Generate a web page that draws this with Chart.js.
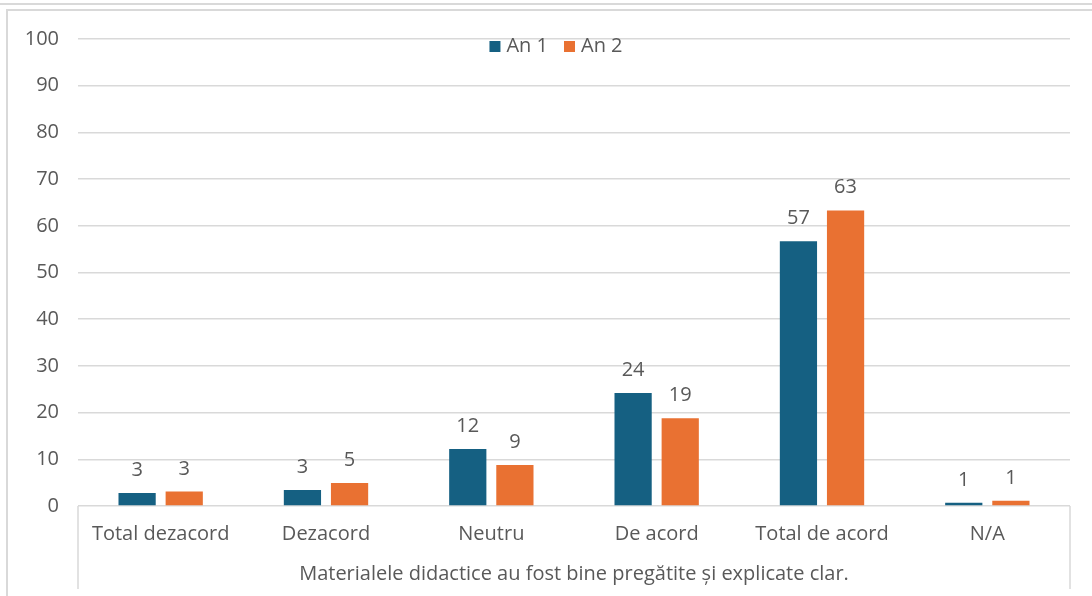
<!DOCTYPE html>
<html>
<head>
<meta charset="utf-8">
<script src="https://cdn.jsdelivr.net/npm/chart.js@4.4.1/dist/chart.umd.min.js"></script>
<style>
  html, body { margin: 0; padding: 0; background: #fff; }
  body { width: 1092px; height: 596px; position: relative; overflow: hidden; }
  #topline { position: absolute; left: 0; top: 3px; width: 1092px; height: 2px; background: #d9d9d9; }
  #frame { position: absolute; left: 6px; top: 9px; width: 1100px; height: 600px;
           border-left: 2px solid #d9d9d9; border-top: 2px solid #d9d9d9; }
  #c { position: absolute; left: 0; top: 0; }
</style>
</head>
<body>
<div id="topline"></div>
<div id="frame"></div>
<canvas id="c" width="1092" height="596"></canvas>
<script>
// categories and values
var categories = ['Total dezacord', 'Dezacord', 'Neutru', 'De acord', 'Total de acord', 'N/A'];
var an1 = [2.8, 3.4, 12.2, 24.2, 56.7, 0.7];
var an2 = [3.1, 4.9, 8.8, 18.8, 63.3, 1.1];
var seriesNames = ['An 1', 'An 2'];
var groupTitle = 'Materialele didactice au fost bine pregătite și explicate clar.';
var yTicks = [0, 10, 20, 30, 40, 50, 60, 70, 80, 90, 100];

var textColor = '#595959';
var gridColor = '#d9d9d9';
var fontFamily = '"Open Sans", sans-serif';
var fontSize = 20;

// value labels above each bar
var barLabels = {
    id: 'barLabels',
    afterDatasetsDraw: function (chart) {
        var ctx = chart.ctx;
        ctx.save();
        ctx.fillStyle = textColor;
        ctx.font = fontSize + 'px ' + fontFamily;
        ctx.textAlign = 'center';
        ctx.textBaseline = 'alphabetic';
        chart.data.datasets.forEach(function (ds, i) {
            chart.getDatasetMeta(i).data.forEach(function (bar, j) {
                ctx.fillText(Math.round(ds.data[j]), bar.x, bar.y - 17);
            });
        });
        ctx.restore();
    }
};

// legend sitting inside the plot, under the 100 line
var insideLegend = {
    id: 'insideLegend',
    afterDraw: function (chart) {
        var ctx = chart.ctx;
        ctx.save();
        ctx.font = fontSize + 'px ' + fontFamily;
        ctx.textBaseline = 'middle';
        var box = 11, gapBox = 6, gapItem = 16;
        var widths = chart.data.datasets.map(function (ds) {
            return box + gapBox + ctx.measureText(ds.label).width;
        });
        var total = widths.reduce(function (a, b) { return a + b; }, 0) + gapItem * (widths.length - 1);
        var x = 556 - total / 2, y = 46.5;
        chart.data.datasets.forEach(function (ds, i) {
            ctx.fillStyle = ds.backgroundColor;
            ctx.fillRect(x, y - box / 2, box, box);
            ctx.fillStyle = textColor;
            ctx.fillText(ds.label, x + box + gapBox, y);
            x += widths[i] + gapItem;
        });
        ctx.restore();
    }
};

// outer lines of the category axis box
var axisBox = {
    id: 'axisBox',
    afterDraw: function (chart) {
        var ctx = chart.ctx, a = chart.chartArea;
        ctx.save();
        ctx.strokeStyle = gridColor;
        ctx.lineWidth = 1.5;
        ctx.beginPath();
        ctx.moveTo(a.left, a.bottom);
        ctx.lineTo(a.left, 589);
        ctx.moveTo(a.right, a.bottom);
        ctx.lineTo(a.right, 589);
        ctx.stroke();
        ctx.restore();
    }
};

var chart = new Chart(document.getElementById('c').getContext('2d'), {
    type: 'bar',
    data: {
        labels: categories,
        datasets: [{
            label: seriesNames[0],
            data: an1,
            backgroundColor: '#156082'
        }, {
            label: seriesNames[1],
            data: an2,
            backgroundColor: '#e97132'
        }]
    },
    options: {
        responsive: false,
        animation: false,
        layout: { padding: { left: 0, right: 22, top: 39, bottom: 0 } },
        datasets: {
            bar: { categoryPercentage: 0.57, barPercentage: 0.79 }
        },
        plugins: {
            legend: { display: false },
            tooltip: { enabled: false }
        },
        scales: {
            x: {
                grid: { display: false, drawTicks: false },
                border: { display: false },
                ticks: {
                    color: textColor,
                    font: { family: fontFamily, size: fontSize },
                    padding: 16,
                    maxRotation: 0
                },
                title: {
                    display: true,
                    text: groupTitle,
                    color: textColor,
                    font: { family: fontFamily, size: fontSize },
                    padding: { top: 0, bottom: 10 }
                },
                afterFit: function (s) { s.height = 90; }
            },
            y: {
                min: 0,
                max: 100,
                afterBuildTicks: function (s) {
                    s.ticks = yTicks.map(function (v) { return { value: v }; });
                },
                grid: { color: gridColor, lineWidth: 1.5, drawTicks: false },
                border: { display: false },
                ticks: {
                    color: textColor,
                    font: { family: fontFamily, size: fontSize },
                    padding: 19
                },
                afterFit: function (s) { s.width = 78; }
            }
        }
    },
    plugins: [barLabels, insideLegend, axisBox]
});
</script>
</body>
</html>
